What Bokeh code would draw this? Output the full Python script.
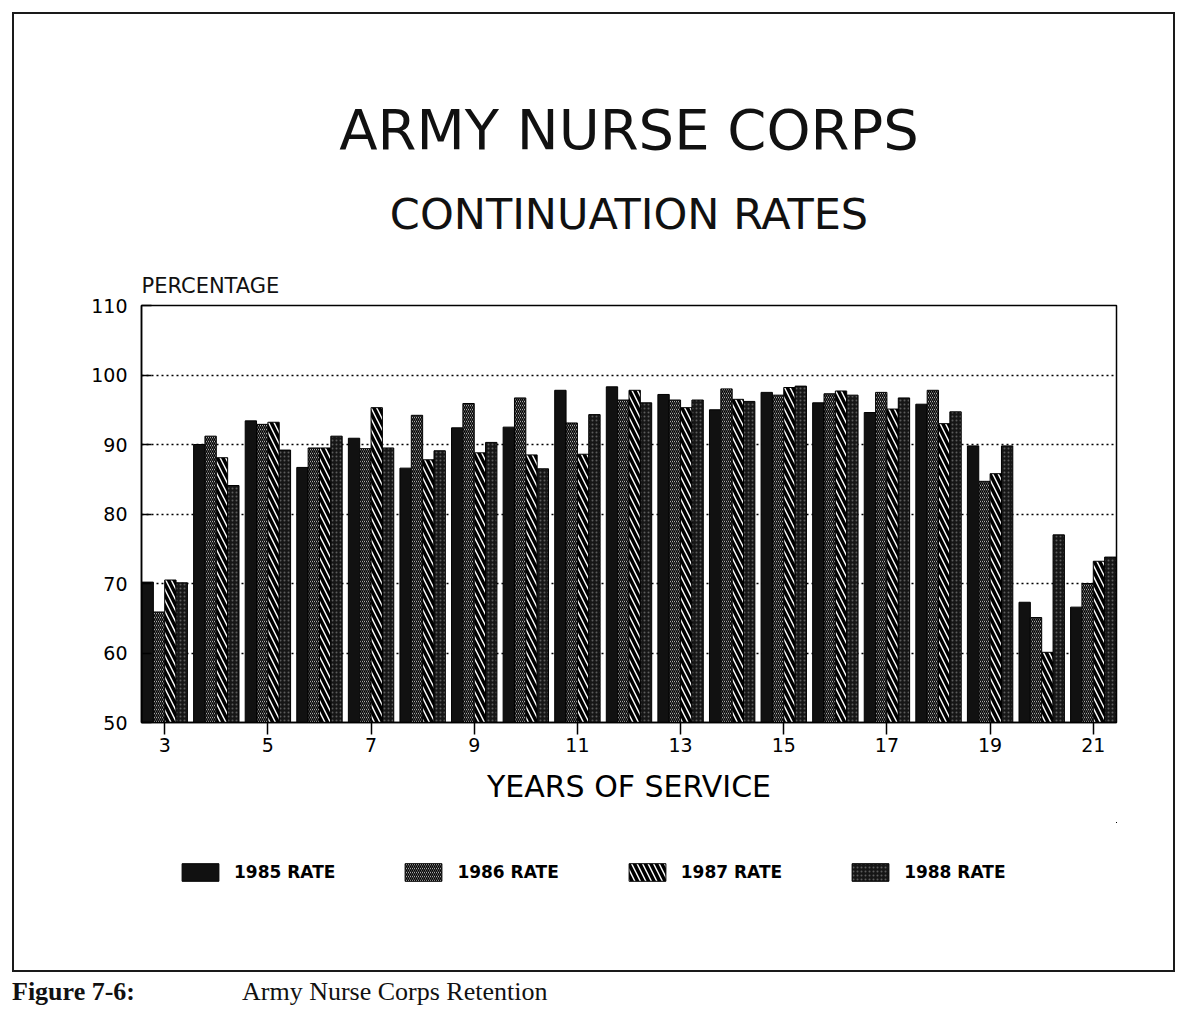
from bokeh.plotting import figure
from bokeh.models import (ColumnDataSource, Range1d, FixedTicker, Legend, LegendItem,
                          Title, Div, Spacer)
from bokeh.layouts import column, row
from bokeh.transform import dodge
from bokeh.embed import file_html
from bokeh.resources import INLINE

# ---------------- data ----------------
years = [3, 4, 5, 6, 7, 8, 9, 10, 11, 12, 13, 14, 15, 16, 17, 18, 19, 20, 21]
rate_1985 = [70.2, 90.0, 93.4, 86.7, 90.9, 86.6, 92.4, 92.5, 97.8, 98.3, 97.2, 95.0, 97.5, 96.0, 94.6, 95.8, 89.8, 67.3, 66.6]
rate_1986 = [65.9, 91.2, 92.9, 89.5, 89.4, 94.2, 95.9, 96.7, 93.1, 96.4, 96.4, 98.0, 97.1, 97.3, 97.5, 97.8, 84.7, 65.1, 70.0]
rate_1987 = [70.5, 88.1, 93.2, 89.5, 95.3, 87.8, 88.8, 88.5, 88.6, 97.8, 95.3, 96.5, 98.2, 97.7, 95.1, 93.0, 85.8, 60.1, 73.2]
rate_1988 = [70.1, 84.1, 89.2, 91.2, 89.5, 89.1, 90.3, 86.5, 94.3, 96.0, 96.4, 96.2, 98.4, 97.1, 96.7, 94.7, 89.8, 77.0, 73.8]
series_labels = ["1985 RATE", "1986 RATE", "1987 RATE", "1988 RATE"]
x_ticks = [3, 5, 7, 9, 11, 13, 15, 17, 19, 21]
y_ticks = [50, 60, 70, 80, 90, 100, 110]
grid_ticks = [60, 70, 80, 90, 100]

title_1 = "ARMY NURSE CORPS"
title_2 = "CONTINUATION RATES"
y_title = "PERCENTAGE"
x_title = "YEARS OF SERVICE"

src = ColumnDataSource(dict(year=years, r85=rate_1985, r86=rate_1986,
                            r87=rate_1987, r88=rate_1988))

FONT = "DejaVu Sans"

# bar styles
styles = [
    dict(fill_color="#111111"),
    dict(fill_color="white", hatch_pattern="left_diagonal_line",
         hatch_color="black", hatch_scale=4, hatch_weight=1.5),
    dict(fill_color="white", hatch_pattern="left_diagonal_line",
         hatch_color="black", hatch_scale=11, hatch_weight=3.5),
    dict(fill_color="#161616", hatch_pattern="dot",
         hatch_color="#5c5c5c", hatch_scale=4, hatch_weight=0.8),
]
columns = ["r85", "r86", "r87", "r88"]
offsets = [-0.33, -0.11, 0.11, 0.33]

p = figure(frame_width=975, frame_height=417,
           x_range=Range1d(2.55, 21.45), y_range=Range1d(50, 110),
           output_backend="svg", toolbar_location=None,
           min_border_left=127, min_border_right=57,
           min_border_top=291, min_border_bottom=100)
p.background_fill_color = "white"
p.border_fill_color = "white"
p.outline_line_color = "black"
p.outline_line_width = 1.5

# grid
p.xgrid.visible = False
p.ygrid.ticker = FixedTicker(ticks=grid_ticks)
p.ygrid.grid_line_color = "black"
p.ygrid.grid_line_dash = "2 3"
p.ygrid.grid_line_width = 1.3

# axes
p.yaxis.ticker = FixedTicker(ticks=y_ticks)
p.yaxis.major_tick_in = 10
p.yaxis.major_tick_out = 0
p.yaxis.minor_tick_line_color = None
p.yaxis.axis_line_width = 1.5
p.yaxis.major_tick_line_width = 1.5
p.yaxis.major_label_text_font = FONT
p.yaxis.major_label_text_font_size = "19px"
p.yaxis.major_label_text_color = "black"
p.yaxis.major_label_standoff = 14

p.xaxis.ticker = FixedTicker(ticks=x_ticks)
p.xaxis.major_tick_in = 0
p.xaxis.major_tick_out = 12
p.xaxis.minor_tick_line_color = None
p.xaxis.axis_line_width = 1.5
p.xaxis.major_tick_line_width = 1.5
p.xaxis.major_label_text_font = FONT
p.xaxis.major_label_text_font_size = "19px"
p.xaxis.major_label_text_color = "black"
p.xaxis.major_label_standoff = 3
p.xaxis.axis_label = x_title
p.xaxis.axis_label_text_font = FONT
p.xaxis.axis_label_text_font_style = "normal"
p.xaxis.axis_label_text_font_size = "30px"
p.xaxis.axis_label_text_color = "black"
p.xaxis.axis_label_standoff = 14

# bars
W = 0.22
for col, off, st in zip(columns, offsets, styles):
    p.vbar(x=dodge("year", off, range=p.x_range), top=col, bottom=50, width=W,
           source=src, line_color="black", line_width=1, **st)

# titles: p.title is outermost; add_layout order = nearest first
p.title.text = title_1
p.title.align = "center"
p.title.text_font = FONT
p.title.text_font_size = "56px"
p.title.text_font_style = "normal"
p.title.text_color = "#111111"
p.title.standoff = 0

p.add_layout(Title(text=y_title, align="left", text_font=FONT,
                   text_font_size="21px", text_font_style="normal",
                   text_color="#111111", standoff=15), "above")
p.add_layout(Title(text=title_2, align="center", text_font=FONT,
                   text_font_size="43px", text_font_style="normal",
                   text_color="#111111", standoff=51), "above")

# legend strip below the chart: same bars drawn through a range that hides
# them, so only the legend swatches show
lf = figure(width=1159, height=148, x_range=Range1d(0, 1), y_range=Range1d(0, 1),
            output_backend="svg", toolbar_location=None,
            x_axis_type=None, y_axis_type=None, min_border=0)
lf.outline_line_color = None
lf.xgrid.visible = False
lf.ygrid.visible = False
lf.background_fill_color = "white"
lf.border_fill_color = "white"
items = []
for lab, col, off, st in zip(series_labels, columns, offsets, styles):
    rr = lf.vbar(x=dodge("year", off), top=col, bottom=50, width=W, source=src,
                 line_color="black", line_width=1, **st)
    items.append(LegendItem(label=lab, renderers=[rr], index=0))

legend = Legend(items=items, orientation="horizontal", location=(36, 87),
                glyph_width=46, glyph_height=22, label_standoff=11, spacing=65,
                padding=10, margin=0, border_line_color=None,
                background_fill_alpha=0,
                label_text_font=FONT, label_text_font_size="17px",
                label_text_font_style="bold", label_text_color="black")
lf.add_layout(legend, "center")

page = column(p, lf, styles={"border": "2px solid #1a1a1a"})

caption = Div(text='<span style="display:inline-block;width:230px;font-weight:bold;">Figure 7-6:</span>'
                   '<span>Army Nurse Corps Retention</span>',
              width=700, height=24,
              styles={"font-family": "Liberation Serif", "font-size": "26px",
                      "line-height": "30px", "color": "#111", "white-space": "nowrap"})

layout = column(Spacer(height=12),
                row(Spacer(width=12), page),
                row(Spacer(width=7), caption))

open("out.html", "w").write(file_html(layout, INLINE))
